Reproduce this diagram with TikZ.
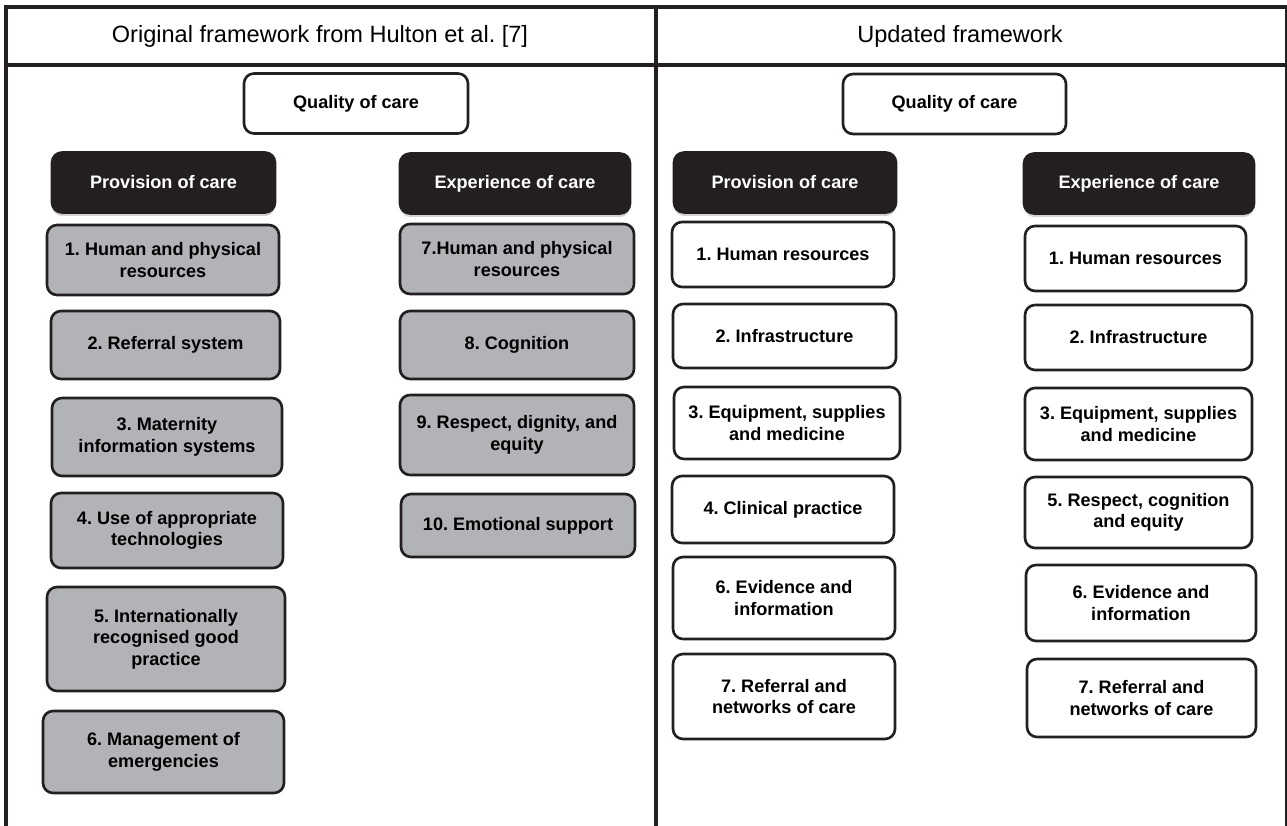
\documentclass[tikz,border=0pt]{standalone}
\usepackage{fontspec}
\setmainfont{Liberation Sans}
\usetikzlibrary{shadows}
\definecolor{boxblack}{HTML}{231F20}
\definecolor{boxgrey}{HTML}{B1B3B6}
\frenchspacing
\begin{document}
\begin{tikzpicture}[
    frame/.style={line width=1.8pt, draw=boxblack},
    cell/.style={draw=boxblack, line width=1.5pt, rounded corners=0.2cm, align=center,
      inner sep=2pt, font=\fontsize{10.3}{12.3}\selectfont\bfseries},
    head/.style={cell, fill=boxblack, text=white,
      drop shadow={shadow xshift=0pt, shadow yshift=-0.07cm, opacity=0.35}},
    old/.style={cell, fill=boxgrey},
    new/.style={cell, fill=white}]
    \useasboundingbox (0,0) rectangle (25.74,-16.52);

    \draw [frame] (0.12,-16.52) -- (0.12,-0.14) -- (25.73,-0.14);
    \draw [frame] (0.12,-1.30) -- (25.73,-1.30);
    \draw [frame, line width=2.2pt] (13.12,-0.14) -- (13.12,-16.52);
    \draw [line width=0.7pt, draw=boxblack] (25.72,-0.14) -- (25.72,-16.52);

    \node [font=\fontsize{13.4}{16}\selectfont] (t1) at (6.40,-0.72) {Original framework from Hulton et al. [7]};
    \node [font=\fontsize{13.4}{16}\selectfont] (t2) at (19.20,-0.72) {Updated framework};

    \node [new, minimum width=4.48cm, minimum height=1.20cm] (q1) at (7.12,-2.07) {Quality of care};
    \node [head, minimum width=4.46cm, minimum height=1.20cm] (p1) at (3.27,-3.65) {Provision of care};
    \node [head, minimum width=4.60cm, minimum height=1.20cm] (e1) at (10.30,-3.67) {Experience of care};

    \node [old, minimum width=4.64cm, minimum height=1.40cm] (a1) at (3.26,-5.20) {1. Human and physical\\resources};
    \node [old, minimum width=4.58cm, minimum height=1.36cm] (a2) at (3.31,-6.90) {2. Referral system};
    \node [old, minimum width=4.60cm, minimum height=1.56cm] (a3) at (3.34,-8.74) {3. Maternity\\information systems};
    \node [old, minimum width=4.64cm, minimum height=1.50cm] (a4) at (3.34,-10.61) {4. Use of appropriate\\technologies};
    \node [old, minimum width=4.76cm, minimum height=2.08cm] (a5) at (3.32,-12.78) {5. Internationally\\recognised good\\practice};
    \node [old, minimum width=4.82cm, minimum height=1.64cm] (a6) at (3.27,-15.04) {6. Management of\\emergencies};

    \node [old, minimum width=4.68cm, minimum height=1.40cm] (a7) at (10.34,-5.18) {7.Human and physical\\resources};
    \node [old, minimum width=4.68cm, minimum height=1.36cm] (a8) at (10.34,-6.90) {8. Cognition};
    \node [old, minimum width=4.68cm, minimum height=1.60cm] (a9) at (10.34,-8.70) {9. Respect, dignity, and\\equity};
    \node [old, minimum width=4.68cm, minimum height=1.26cm] (a10) at (10.36,-10.51) {10. Emotional support};

    \node [new, minimum width=4.46cm, minimum height=1.20cm] (q2) at (19.09,-2.08) {Quality of care};
    \node [head, minimum width=4.44cm, minimum height=1.20cm] (p2) at (15.70,-3.65) {Provision of care};
    \node [head, minimum width=4.60cm, minimum height=1.20cm] (e2) at (22.78,-3.67) {Experience of care};

    \node [new, minimum width=4.44cm, minimum height=1.30cm] (b1) at (15.66,-5.09) {1. Human resources};
    \node [new, minimum width=4.46cm, minimum height=1.28cm] (b2) at (15.69,-6.72) {2. Infrastructure};
    \node [new, minimum width=4.52cm, minimum height=1.44cm] (b3) at (15.74,-8.46) {3. Equipment, supplies\\and medicine};
    \node [new, minimum width=4.44cm, minimum height=1.34cm] (b4) at (15.66,-10.19) {4. Clinical practice};
    \node [new, minimum width=4.44cm, minimum height=1.64cm] (b6) at (15.68,-11.96) {6. Evidence and\\information};
    \node [new, minimum width=4.44cm, minimum height=1.70cm] (b7) at (15.68,-13.93) {7. Referral and\\networks of care};

    \node [new, minimum width=4.42cm, minimum height=1.30cm] (c1) at (22.71,-5.17) {1. Human resources};
    \node [new, minimum width=4.54cm, minimum height=1.30cm] (c2) at (22.77,-6.75) {2. Infrastructure};
    \node [new, minimum width=4.54cm, minimum height=1.44cm] (c3) at (22.77,-8.48) {3. Equipment, supplies\\and medicine};
    \node [new, minimum width=4.54cm, minimum height=1.42cm] (c5) at (22.77,-10.25) {5. Respect, cognition\\and equity};
    \node [new, minimum width=4.60cm, minimum height=1.52cm] (c6) at (22.82,-12.06) {6. Evidence and\\information};
    \node [new, minimum width=4.58cm, minimum height=1.56cm] (c7) at (22.83,-13.96) {7. Referral and\\networks of care};
\end{tikzpicture}
\end{document}
